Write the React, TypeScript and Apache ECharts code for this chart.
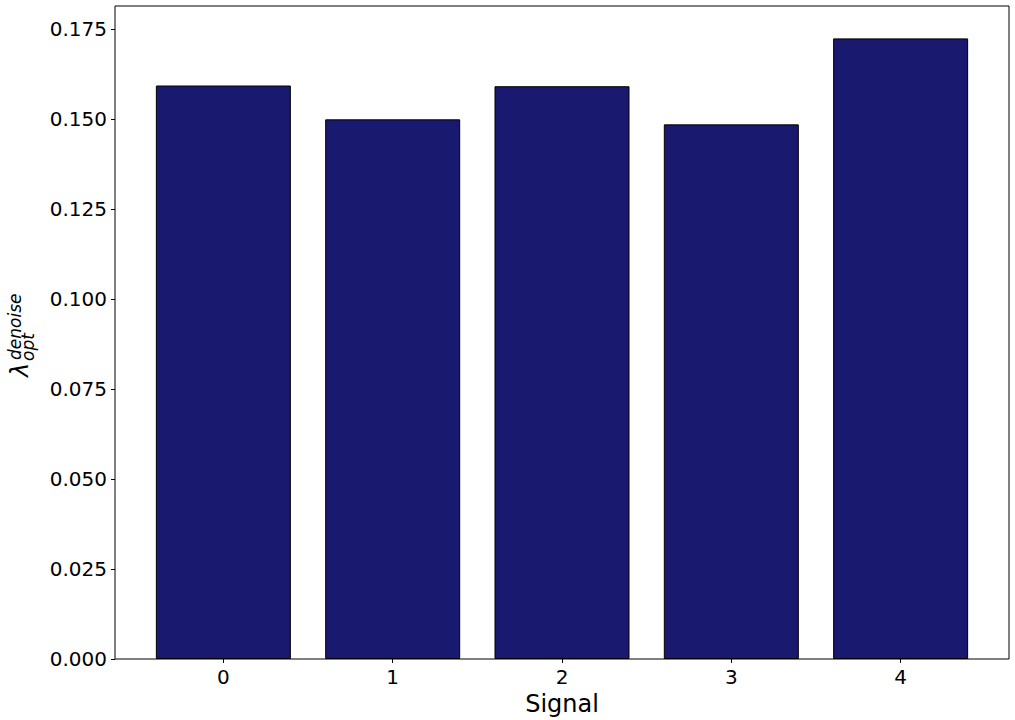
import * as echarts from 'echarts'
import { useEffect, useRef } from 'react'

// signal index and the optimal denoise lambda for each one
const signals = [0, 1, 2, 3, 4]
const lambdaOpt = [0.1594, 0.15, 0.1592, 0.1486, 0.1725]
const yTicks = [0, 0.025, 0.05, 0.075, 0.1, 0.125, 0.15, 0.175]

const FONT = 'DejaVu Sans'

// one rotated piece of the y axis label
const labelText = (text: string, x: number, y: number, size: number) => ({
  type: 'text',
  x,
  y,
  rotation: Math.PI / 2,
  style: {
    text,
    fontFamily: FONT,
    fontStyle: 'italic',
    fontSize: size,
    fill: '#000',
    align: 'left',
    verticalAlign: 'middle'
  }
})

export default function App() {
  const chartRef = useRef<HTMLDivElement>(null)

  useEffect(() => {
    document.body.style.margin = '0'
    if (!chartRef.current) return
    const chart = echarts.init(chartRef.current, null, { renderer: 'svg' })

    const option: any = {
      animation: false,
      backgroundColor: '#fff',
      grid: {
        left: 115,
        top: 6,
        right: 6,
        bottom: 61,
        show: true,
        borderColor: '#000',
        borderWidth: 1,
        backgroundColor: 'transparent',
        outerBoundsMode: 'none'
      },
      xAxis: {
        type: 'value',
        min: -0.64,
        max: 4.64,
        name: 'Signal',
        nameLocation: 'middle',
        nameGap: 25,
        nameTextStyle: { fontFamily: FONT, fontSize: 24, color: '#000' },
        axisLine: { show: false, onZero: false },
        axisTick: {
          show: true,
          length: 4,
          lineStyle: { color: '#000', width: 1 },
          customValues: signals
        },
        axisLabel: {
          fontFamily: FONT,
          fontSize: 20,
          color: '#000',
          margin: 8,
          customValues: signals,
          formatter: (v: number) => String(v)
        },
        splitLine: { show: false }
      },
      yAxis: {
        type: 'value',
        min: 0,
        max: 0.1815,
        axisLine: { show: false, onZero: false },
        axisTick: {
          show: true,
          length: 4,
          lineStyle: { color: '#000', width: 1 },
          customValues: yTicks
        },
        axisLabel: {
          fontFamily: FONT,
          fontSize: 20,
          color: '#000',
          margin: 8,
          customValues: yTicks,
          formatter: (v: number) => v.toFixed(3)
        },
        splitLine: { show: false }
      },
      graphic: [
        labelText('λ', 20, 377, 24),
        labelText('denoise', 15, 360, 17),
        labelText('opt', 28, 361, 17)
      ],
      series: [
        {
          type: 'bar',
          barWidth: 135,
          data: signals.map((s, i) => [s, lambdaOpt[i]]),
          itemStyle: {
            color: '#191970',
            borderColor: '#000',
            borderWidth: 1
          }
        }
      ]
    }

    chart.setOption(option)

    return () => {
      chart.dispose()
    }
  }, [])

  return <div ref={chartRef} style={{ width: '1015px', height: '720px' }} />
}
